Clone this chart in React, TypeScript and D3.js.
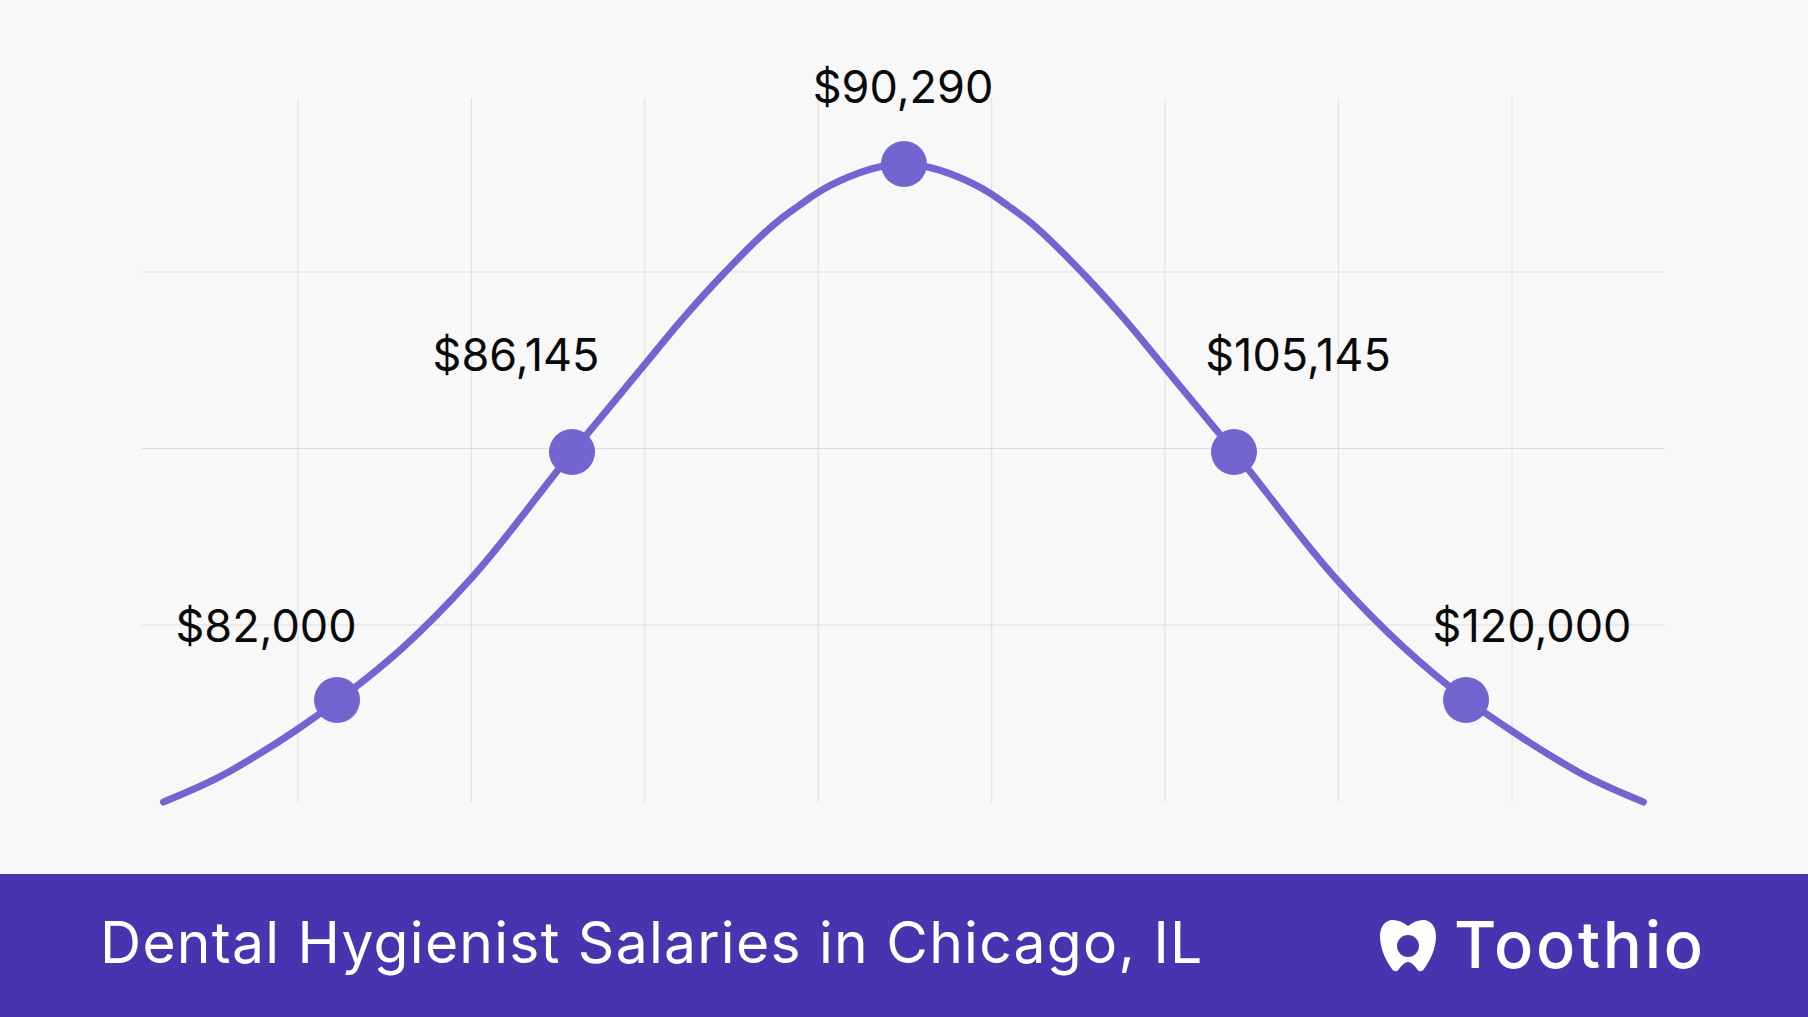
import React from 'react';
import * as d3 from 'd3';

// curve, x in grid columns and y in grid rows
const curveX = [0.224, 0.547, 0.766, 0.991, 1.233, 1.608, 2.0, 2.582, 2.992, 3.222, 3.447, 3.776, 3.886, 3.989, 4.174, 4.364, 4.491, 4.618, 4.808, 4.993, 5.096, 5.206, 5.535, 5.76, 5.99, 6.4, 6.982, 7.374, 7.74, 7.991, 8.216, 8.435, 8.758];
const curveY = [-0.003, 0.139, 0.263, 0.405, 0.575, 0.875, 1.266, 1.98, 2.467, 2.739, 2.983, 3.295, 3.374, 3.445, 3.538, 3.598, 3.612, 3.598, 3.538, 3.445, 3.374, 3.295, 2.983, 2.739, 2.467, 1.98, 1.266, 0.875, 0.575, 0.405, 0.263, 0.139, -0.003];

const pointX = [1.225, 2.58, 4.494, 6.397, 7.735];
const pointY = [0.575, 1.98, 3.612, 1.98, 0.575];
const pointLabels = ['$82,000', '$86,145', '$90,290', '$105,145', '$120,000'];

const gridCols = [1, 2, 3, 4, 5, 6, 7, 8];
const gridRows = [1, 2, 3];

const title = 'Dental Hygienist Salaries in Chicago, IL';
const brand = 'Toothio';

const WIDTH = 1808;
const HEIGHT = 1017;
const BAND_TOP = 874;

const LINE_COLOR = '#7365D0';
const BAND_COLOR = '#4834AE';
const GRID_COLOR = '#DEDEDE';

// where each label sits, centre x and baseline
const labelPos = [
  { x: 266, y: 642 },
  { x: 516, y: 371 },
  { x: 903, y: 103 },
  { x: 1298, y: 371 },
  { x: 1532, y: 642 },
];

const toothPath =
  'M0,-20 C-5,-24 -10,-26 -15,-26 C-24,-26 -28,-18 -28,-10 C-28,4 -21,16 -16,23 C-14,26 -11,26 -9,23 C-6,19 -3,16 0,16 C3,16 6,19 9,23 C11,26 14,26 16,23 C21,16 28,4 28,-10 C28,-18 24,-26 15,-26 C10,-26 5,-24 0,-20 Z ' +
  'M0,-11 A11,11 0 1,0 0,11 A11,11 0 1,0 0,-11 Z';

export default function App() {
  const x = d3.scaleLinear().domain([1, 8]).range([298, 1512]);
  const y = d3.scaleLinear().domain([1, 3]).range([625, 272]);

  const line = d3
    .line<number>()
    .x((d) => x(d))
    .y((_, i) => y(curveY[i]))
    .curve(d3.curveMonotoneX);

  return (
    <svg
      width={WIDTH}
      height={HEIGHT}
      viewBox={`0 0 ${WIDTH} ${HEIGHT}`}
      style={{ position: 'absolute', left: 0, top: 0, display: 'block' }}
    >
      <rect width={WIDTH} height={HEIGHT} fill="#F8F8F8" />

      {gridCols.map((c) => (
        <line key={c} x1={x(c)} x2={x(c)} y1={98} y2={802} stroke={GRID_COLOR} strokeWidth={1} />
      ))}
      {gridRows.map((r) => (
        <line key={r} x1={142} x2={1665} y1={y(r)} y2={y(r)} stroke={GRID_COLOR} strokeWidth={1} />
      ))}

      <path
        d={line(curveX) ?? ''}
        fill="none"
        stroke={LINE_COLOR}
        strokeWidth={7}
        strokeLinecap="round"
      />

      {pointX.map((px, i) => (
        <circle key={i} cx={x(px)} cy={y(pointY[i])} r={23} fill={LINE_COLOR} />
      ))}

      {pointLabels.map((label, i) => (
        <text
          key={label}
          x={labelPos[i].x}
          y={labelPos[i].y}
          textAnchor="middle"
          fontFamily="Inter, sans-serif"
          fontSize={45}
          fill="#0A0A0A"
        >
          {label}
        </text>
      ))}

      <rect x={0} y={BAND_TOP} width={WIDTH} height={HEIGHT - BAND_TOP} fill={BAND_COLOR} />

      <text
        x={100}
        y={963}
        fontFamily="Inter, sans-serif"
        fontSize={57}
        letterSpacing={1.25}
        fill="#FFFFFF"
      >
        {title}
      </text>

      <path d={toothPath} transform="translate(1408,946)" fill="#FFFFFF" fillRule="evenodd" />
      <text
        x={1454}
        y={968}
        fontFamily="Inter, sans-serif"
        fontWeight={500}
        fontSize={65}
        letterSpacing={2.7}
        fill="#FFFFFF"
      >
        {brand}
      </text>
    </svg>
  );
}
